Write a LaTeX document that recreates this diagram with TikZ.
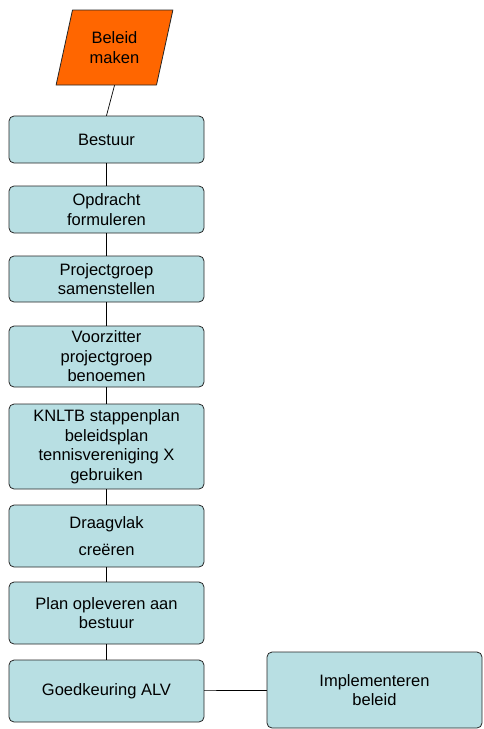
\documentclass[tikz,border=0pt]{standalone}
\usepackage{fontspec}
\setmainfont{Liberation Sans}
\usetikzlibrary{shapes.geometric}
\definecolor{blauwgroen}{HTML}{B8DFE3}
\definecolor{oranje}{HTML}{FF6600}
\tikzset{
  every picture/.style={line join=round, line cap=round},
  stap/.style={draw=black!85, fill=blauwgroen, rounded corners=5pt, line width=0.8pt,
    minimum width=195pt, inner sep=0pt, align=center, font=\fontsize{16.5}{19.5}\selectfont},
  invoer/.style={draw=black!85, fill=oranje, trapezium, trapezium left angle=73, trapezium right angle=107,
    trapezium stretches=true, minimum width=117pt, minimum height=75pt, inner sep=0pt,
    line width=0.8pt, align=center, font=\fontsize{16.5}{19.5}\selectfont},
  lijn/.style={line width=0.7pt},
}

\begin{document}
\begin{tikzpicture}[x=1pt,y=-1pt]
\useasboundingbox (0,0) rectangle (483,729);
\node[invoer] (beleid) at (114.5,47.5) {Beleid\\maken};
\node[stap,minimum height=47pt] (bestuur) at (106.5,139.5) {Bestuur};
\node[stap,minimum height=47pt] (opdracht) at (106.5,209.5) {Opdracht\\formuleren};
\node[stap,minimum height=46pt] (groep) at (106.5,279) {Projectgroep\\samenstellen};
\node[stap,minimum height=61pt] (voorzitter) at (106.5,356.5) {Voorzitter\\projectgroep\\benoemen};
\node[stap,minimum height=85pt] (knltb) at (106.5,446.5) {KNLTB stappenplan\\beleidsplan\\tennisvereniging X\\gebruiken};
\node[stap,minimum height=62pt] (draagvlak) at (106.5,536) {Draagvlak\\[8pt]creëren};
\node[stap,minimum height=62pt] (plan) at (106.5,613) {Plan opleveren aan\\bestuur};
\node[stap,minimum height=62pt] (alv) at (106.5,691) {Goedkeuring ALV};
\node[stap,minimum width=215pt,minimum height=76pt] (implementeren) at (374.5,690) {Implementeren\\beleid};
\draw[lijn] (beleid.south) -- (bestuur.north);
\draw[lijn] (bestuur) -- (opdracht);
\draw[lijn] (opdracht) -- (groep);
\draw[lijn] (groep) -- (voorzitter);
\draw[lijn] (voorzitter) -- (knltb);
\draw[lijn] (knltb) -- (draagvlak);
\draw[lijn] (draagvlak) -- (plan);
\draw[lijn] (plan) -- (alv);
\draw[lijn] (alv) -- (implementeren);
\end{tikzpicture}
\end{document}
